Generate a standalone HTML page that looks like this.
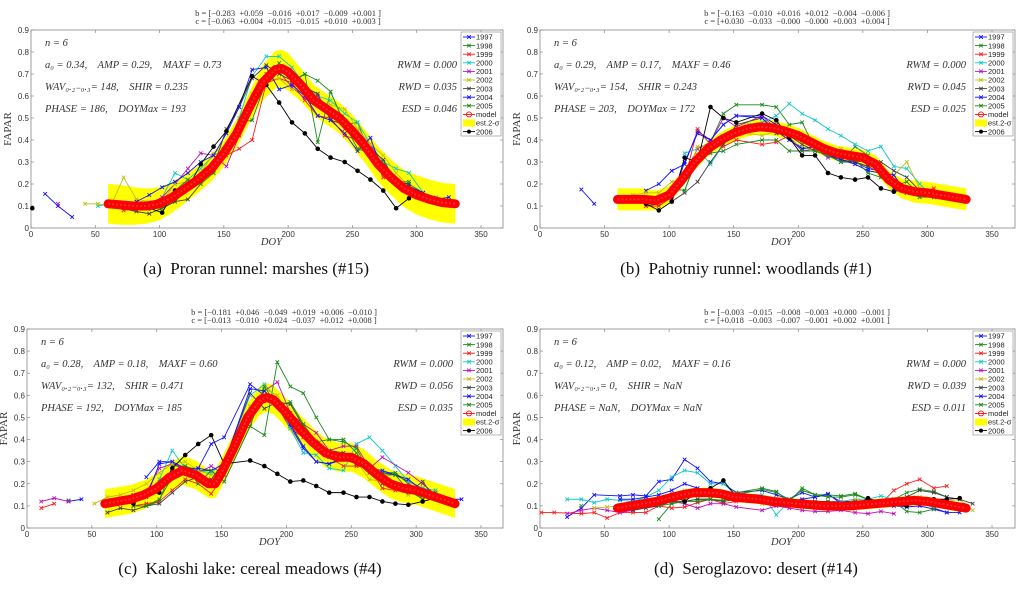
<!DOCTYPE html>
<html><head><meta charset="utf-8">
<style>
body{margin:0;background:#fff;}
svg{display:block;font-family:"Liberation Serif",serif;}
svg text{white-space:pre;}
.tk{font-family:"Liberation Sans",sans-serif;font-size:8px;fill:#333;}
.lg{font-family:"Liberation Sans",sans-serif;font-size:7.5px;fill:#222;}
.an{font-size:10.5px;font-style:italic;fill:#333;}
.ti{font-size:8.5px;fill:#333;}
.cap{font-size:17px;fill:#111;}
</style></head>
<body>
<svg id="fig" width="1024" height="589" viewBox="0 0 1024 589" xmlns="http://www.w3.org/2000/svg"></svg>
<script>
// ---------- Panel (a) data ----------
const aModelDoy = [60,70,80,90,100,110,120,130,140,150,160,170,180,190,195,200,210,220,230,240,250,260,270,280,290,300,310,320,330];
const aModelVal = [0.11,0.105,0.10,0.10,0.11,0.14,0.18,0.22,0.27,0.34,0.43,0.55,0.66,0.72,0.725,0.71,0.65,0.58,0.54,0.50,0.44,0.37,0.29,0.23,0.18,0.15,0.13,0.115,0.11];
const aBand = [0.09,0.09,0.085,0.08,0.075,0.07,0.065,0.06,0.06,0.06,0.065,0.07,0.08,0.085,0.085,0.085,0.075,0.07,0.07,0.07,0.075,0.075,0.08,0.08,0.085,0.09,0.09,0.09,0.09];
const a1997 = [[11,0.155],[21,0.10],[32,0.05]];
const a1998 = [[62,0.10],[72,0.09],[82,0.09],[92,0.10],[102,0.09],[112,0.12],[122,0.18],[132,0.21],[142,0.26],[152,0.35],[162,0.48],[172,0.49],[183,0.67],[193,0.75],[203,0.66],[213,0.70],[223,0.39],[233,0.62],[244,0.47],[254,0.48],[264,0.33],[274,0.30],[284,0.21],[294,0.20],[305,0.16],[315,0.13]];
const a1999 = [[72,0.08],[82,0.09],[92,0.09],[102,0.10],[112,0.14],[122,0.18],[132,0.22],[142,0.25],[152,0.33],[162,0.36],[172,0.40],[183,0.66],[193,0.68],[203,0.66],[213,0.58],[223,0.51],[233,0.50],[244,0.42],[254,0.40],[264,0.35],[274,0.23],[284,0.21],[294,0.18],[305,0.13],[315,0.12]];
const a2000 = [[52,0.10],[62,0.11],[92,0.10],[102,0.14],[112,0.25],[122,0.22],[132,0.27],[142,0.33],[152,0.36],[162,0.50],[172,0.69],[183,0.78],[193,0.78],[203,0.73],[213,0.65],[223,0.60],[233,0.58],[244,0.52],[254,0.48],[264,0.38],[274,0.30],[284,0.27],[294,0.25],[305,0.16],[315,0.14]];
const a2001 = [[21,0.11],[92,0.11],[102,0.14],[112,0.20],[122,0.27],[132,0.34],[142,0.33],[152,0.28],[162,0.42],[172,0.57],[183,0.68],[193,0.71],[203,0.64],[213,0.59],[223,0.60],[233,0.52],[244,0.45],[254,0.44],[264,0.38],[274,0.28],[284,0.21],[294,0.17],[305,0.14]];
const a2002 = [[42,0.11],[52,0.11],[62,0.10],[72,0.23],[82,0.13],[92,0.12],[102,0.12],[112,0.20],[122,0.21],[132,0.25],[142,0.34],[152,0.38],[162,0.48],[172,0.61],[183,0.67],[193,0.68],[203,0.63],[213,0.64],[223,0.58],[233,0.56],[244,0.54],[254,0.45],[264,0.38],[274,0.33],[284,0.25],[294,0.19]];
const a2003 = [[62,0.10],[82,0.075],[92,0.065],[102,0.09],[112,0.12],[122,0.13],[132,0.20],[142,0.28],[152,0.45],[162,0.55],[172,0.68],[183,0.74],[193,0.70],[203,0.67],[213,0.64],[223,0.61],[233,0.49],[244,0.47],[254,0.40],[264,0.36],[274,0.31],[284,0.21],[294,0.20]];
const a2004 = [[82,0.12],[92,0.15],[102,0.185],[112,0.21],[122,0.25],[132,0.30],[142,0.33],[152,0.43],[162,0.55],[172,0.72],[183,0.73],[193,0.63],[203,0.65],[213,0.60],[223,0.51],[233,0.49],[244,0.43],[254,0.35],[264,0.41],[274,0.25],[284,0.21],[294,0.19],[305,0.16],[315,0.13],[325,0.14]];
const a2005 = [[92,0.09],[102,0.09],[112,0.17],[122,0.22],[132,0.20],[142,0.25],[152,0.37],[162,0.45],[172,0.55],[183,0.70],[193,0.72],[203,0.67],[213,0.70],[223,0.67],[233,0.62],[244,0.47],[254,0.36],[264,0.34],[274,0.29],[284,0.21],[294,0.21]];
const a2006 = [[1,0.09],[82,0.09],[92,0.09],[102,0.07],[112,0.17],[122,0.18],[132,0.29],[142,0.37],[152,0.44],[172,0.69],[183,0.65],[193,0.57],[203,0.48],[213,0.43],[223,0.36],[233,0.32],[244,0.30],[254,0.26],[264,0.22],[274,0.17],[284,0.09],[294,0.135]];

// ---------- Panel (b) data ----------
const bModelDoy = [60,70,80,90,100,110,120,130,140,150,160,170,180,190,200,210,220,230,240,250,260,270,280,290,300,310,320,330];
const bModelVal = [0.13,0.13,0.13,0.125,0.15,0.22,0.30,0.36,0.40,0.43,0.45,0.46,0.455,0.44,0.42,0.39,0.36,0.34,0.33,0.32,0.29,0.22,0.18,0.165,0.16,0.15,0.14,0.13];
const bBand = [0.05,0.05,0.05,0.045,0.04,0.035,0.035,0.035,0.035,0.035,0.035,0.035,0.035,0.035,0.035,0.035,0.035,0.035,0.035,0.035,0.04,0.04,0.045,0.05,0.05,0.05,0.05,0.05];
const b1997 = [[32,0.175],[42,0.11],[82,0.17],[92,0.20],[102,0.26],[112,0.29],[122,0.44],[132,0.40],[142,0.47],[152,0.51],[172,0.51],[183,0.47],[193,0.41],[203,0.36],[213,0.37],[223,0.33],[233,0.31],[244,0.30],[254,0.27],[264,0.26],[274,0.18],[284,0.16],[294,0.17]];
const b1998 = [[82,0.10],[92,0.11],[102,0.18],[112,0.17],[122,0.32],[132,0.39],[142,0.52],[152,0.56],[172,0.56],[183,0.55],[193,0.47],[203,0.48],[213,0.36],[223,0.33],[233,0.30],[244,0.37],[254,0.33],[264,0.23],[274,0.19],[284,0.21],[294,0.15]];
const b1999 = [[82,0.10],[92,0.10],[102,0.14],[112,0.22],[122,0.45],[132,0.38],[142,0.37],[152,0.40],[172,0.38],[183,0.39],[193,0.42],[203,0.40],[213,0.38],[223,0.33],[233,0.32],[244,0.30],[254,0.31],[264,0.27],[274,0.20],[284,0.17],[294,0.16],[305,0.18]];
const b2000 = [[112,0.34],[122,0.36],[132,0.29],[142,0.38],[152,0.44],[162,0.47],[172,0.48],[183,0.51],[193,0.565],[203,0.52],[213,0.49],[223,0.45],[233,0.42],[244,0.38],[254,0.35],[264,0.37],[274,0.28],[284,0.27],[294,0.20],[305,0.14]];
const b2001 = [[102,0.15],[112,0.25],[122,0.36],[132,0.39],[142,0.50],[152,0.46],[172,0.51],[183,0.45],[193,0.41],[203,0.35],[213,0.36],[223,0.32],[233,0.33],[244,0.30],[254,0.28],[264,0.25],[274,0.20],[284,0.17]];
const b2002 = [[62,0.14],[72,0.15],[82,0.16],[92,0.16],[102,0.21],[112,0.22],[122,0.37],[132,0.38],[142,0.42],[152,0.45],[162,0.43],[172,0.42],[183,0.44],[193,0.40],[203,0.37],[213,0.35],[223,0.34],[233,0.36],[244,0.33],[254,0.30],[264,0.27],[274,0.24],[284,0.30],[294,0.18]];
const b2003 = [[102,0.12],[112,0.16],[122,0.21],[132,0.30],[142,0.38],[152,0.47],[172,0.50],[183,0.43],[193,0.42],[203,0.38],[213,0.35],[223,0.33],[233,0.30],[244,0.30],[254,0.28],[264,0.30],[274,0.26],[284,0.23],[294,0.17]];
const b2004 = [[102,0.13],[112,0.30],[122,0.43],[132,0.40],[142,0.47],[152,0.51],[172,0.50],[183,0.44],[193,0.40],[203,0.36],[213,0.37],[223,0.33],[233,0.31],[244,0.29],[254,0.26],[264,0.25],[274,0.24],[284,0.16]];
const b2005 = [[112,0.17],[122,0.33],[132,0.34],[142,0.35],[152,0.38],[172,0.40],[183,0.40],[193,0.35],[203,0.35],[213,0.35],[223,0.33],[233,0.30],[244,0.31],[254,0.25],[264,0.23],[274,0.19],[284,0.16],[294,0.14],[305,0.14]];
const b2006 = [[82,0.11],[92,0.08],[102,0.12],[112,0.32],[122,0.30],[132,0.55],[142,0.50],[152,0.48],[172,0.52],[183,0.49],[193,0.41],[203,0.33],[213,0.33],[223,0.25],[233,0.23],[244,0.22],[254,0.23],[264,0.18],[274,0.165],[284,0.18],[294,0.155]];

// ---------- Panel (c) data ----------
const cModelDoy = [60,70,80,90,100,110,120,130,140,145,150,160,170,180,185,190,200,210,220,230,240,250,260,270,280,290,300,310,320,330];
const cModelVal = [0.11,0.12,0.13,0.15,0.18,0.23,0.26,0.24,0.20,0.20,0.25,0.37,0.50,0.58,0.59,0.58,0.52,0.45,0.39,0.34,0.32,0.32,0.29,0.24,0.20,0.18,0.17,0.15,0.13,0.11];
const cBand = [0.065,0.065,0.065,0.065,0.065,0.065,0.065,0.065,0.065,0.065,0.065,0.065,0.065,0.065,0.065,0.065,0.065,0.065,0.065,0.065,0.065,0.065,0.065,0.065,0.065,0.065,0.065,0.065,0.065,0.065];
const c1997 = [[32,0.12],[42,0.13],[92,0.23],[102,0.30],[112,0.30],[122,0.25],[132,0.27],[142,0.38],[152,0.41],[172,0.65],[183,0.60],[193,0.55],[203,0.46],[213,0.36],[223,0.30],[233,0.29],[244,0.32],[254,0.30],[264,0.27],[274,0.25],[284,0.24],[294,0.21],[305,0.18],[315,0.15],[325,0.13],[335,0.13]];
const c1998 = [[32,0.125],[82,0.10],[92,0.10],[102,0.12],[112,0.28],[122,0.28],[132,0.26],[142,0.26],[152,0.21],[172,0.46],[183,0.42],[193,0.75],[203,0.64],[213,0.61],[223,0.50],[233,0.40],[244,0.40],[254,0.34],[264,0.25],[274,0.25],[284,0.25],[294,0.20],[305,0.13]];
const c1999 = [[11,0.09],[21,0.11],[82,0.10],[92,0.11],[102,0.12],[112,0.17],[122,0.22],[132,0.20],[142,0.155],[152,0.24],[172,0.55],[183,0.62],[193,0.55],[203,0.45],[213,0.41],[223,0.38],[233,0.32],[244,0.28],[254,0.28],[264,0.27],[274,0.18],[284,0.17],[294,0.20],[305,0.17],[315,0.14],[325,0.12]];
const c2000 = [[62,0.11],[102,0.22],[112,0.35],[122,0.27],[132,0.26],[142,0.25],[152,0.30],[172,0.60],[183,0.65],[193,0.58],[203,0.45],[213,0.34],[223,0.33],[233,0.27],[244,0.26],[254,0.38],[264,0.41],[274,0.35],[284,0.28],[294,0.21],[305,0.18],[315,0.17]];
const c2001 = [[11,0.12],[21,0.135],[32,0.12],[82,0.15],[92,0.16],[102,0.27],[112,0.29],[122,0.27],[132,0.25],[142,0.28],[152,0.24],[172,0.48],[183,0.62],[193,0.66],[203,0.52],[213,0.47],[223,0.43],[233,0.35],[244,0.37],[254,0.37],[264,0.27],[274,0.32],[294,0.25],[305,0.20],[315,0.15]];
const c2002 = [[52,0.11],[62,0.14],[72,0.15],[82,0.17],[92,0.20],[102,0.25],[112,0.29],[122,0.30],[132,0.26],[142,0.24],[152,0.26],[172,0.55],[183,0.63],[193,0.60],[203,0.50],[213,0.42],[223,0.38],[233,0.34],[244,0.33],[254,0.30],[264,0.22],[274,0.21],[284,0.19],[294,0.15]];
const c2003 = [[62,0.07],[72,0.09],[82,0.08],[92,0.10],[102,0.11],[112,0.16],[122,0.21],[132,0.23],[142,0.22],[152,0.30],[172,0.61],[183,0.54],[193,0.57],[203,0.56],[213,0.46],[223,0.39],[233,0.35],[244,0.34],[254,0.30],[264,0.26],[274,0.20],[284,0.18],[294,0.16],[305,0.21],[315,0.13]];
const c2004 = [[92,0.14],[102,0.29],[112,0.30],[122,0.27],[132,0.27],[142,0.26],[152,0.29],[172,0.63],[183,0.62],[193,0.56],[203,0.47],[213,0.37],[223,0.30],[233,0.29],[244,0.31],[254,0.29],[264,0.27],[274,0.26],[284,0.24],[294,0.22],[305,0.17],[315,0.15],[325,0.13]];
const c2005 = [[82,0.10],[92,0.10],[102,0.13],[112,0.23],[122,0.28],[132,0.20],[142,0.26],[152,0.21],[172,0.46],[183,0.64],[193,0.55],[203,0.57],[213,0.47],[223,0.39],[233,0.40],[244,0.39],[254,0.36],[264,0.25],[274,0.24],[284,0.24],[294,0.17],[305,0.13],[315,0.16]];
const c2006 = [[82,0.11],[92,0.15],[102,0.16],[112,0.27],[122,0.33],[132,0.38],[142,0.42],[152,0.29],[172,0.305],[183,0.28],[193,0.245],[203,0.21],[213,0.215],[223,0.19],[233,0.16],[244,0.16],[254,0.14],[264,0.14],[274,0.12],[284,0.11],[294,0.105],[305,0.12],[315,0.135],[325,0.12]];

// ---------- Panel (d) data ----------
const dModelDoy = [60,70,80,90,100,110,120,130,140,150,160,170,180,190,200,210,220,230,240,250,260,270,280,290,300,310,320,330];
const dModelVal = [0.09,0.10,0.11,0.12,0.135,0.15,0.16,0.16,0.155,0.14,0.135,0.13,0.12,0.115,0.11,0.105,0.10,0.10,0.10,0.105,0.11,0.115,0.12,0.125,0.12,0.11,0.10,0.09];
const dBand = [0.022,0.022,0.022,0.022,0.022,0.022,0.022,0.022,0.022,0.022,0.022,0.022,0.022,0.022,0.022,0.022,0.022,0.022,0.022,0.022,0.022,0.022,0.022,0.022,0.022,0.022,0.022,0.022];
const d1997 = [[21,0.05],[32,0.09],[42,0.15],[62,0.145],[72,0.15],[82,0.145],[92,0.21],[102,0.22],[112,0.31],[122,0.27],[132,0.21],[142,0.20],[152,0.16],[172,0.17],[183,0.15],[193,0.13],[203,0.16],[213,0.14],[223,0.15],[233,0.12],[244,0.12],[254,0.12],[264,0.11],[274,0.11],[284,0.10],[294,0.12],[305,0.09],[315,0.07],[325,0.07]];
const d1998 = [[32,0.10],[92,0.04],[102,0.11],[112,0.12],[122,0.13],[132,0.13],[142,0.12],[152,0.16],[172,0.18],[183,0.165],[193,0.12],[203,0.18],[213,0.15],[223,0.15],[233,0.145],[244,0.155],[254,0.13],[264,0.11],[274,0.13],[284,0.16],[294,0.175],[305,0.165],[315,0.14]];
const d1999 = [[1,0.07],[11,0.07],[32,0.065],[42,0.07],[52,0.045],[62,0.07],[72,0.07],[82,0.07],[92,0.10],[102,0.09],[112,0.095],[122,0.115],[132,0.13],[142,0.11],[152,0.12],[172,0.11],[183,0.10],[193,0.11],[203,0.11],[213,0.12],[223,0.11],[233,0.10],[244,0.10],[254,0.10],[264,0.11],[274,0.17],[284,0.20],[294,0.22],[305,0.18],[315,0.19]];
const d2000 = [[21,0.13],[32,0.13],[42,0.115],[52,0.13],[62,0.125],[72,0.12],[82,0.14],[92,0.17],[102,0.23],[112,0.26],[122,0.25],[132,0.20],[142,0.20],[152,0.15],[172,0.15],[183,0.06],[193,0.12],[203,0.12],[213,0.12],[223,0.12],[233,0.12],[244,0.13],[254,0.13],[264,0.145],[274,0.13],[284,0.14],[294,0.12],[305,0.09]];
const d2001 = [[21,0.065],[32,0.08],[42,0.09],[52,0.08],[62,0.07],[72,0.08],[82,0.10],[92,0.10],[102,0.12],[112,0.11],[122,0.09],[132,0.11],[142,0.11],[152,0.095],[172,0.08],[183,0.10],[193,0.09],[203,0.08],[213,0.075],[223,0.075],[233,0.08],[244,0.07],[254,0.065],[264,0.075],[274,0.065]];
const d2002 = [[42,0.09],[52,0.095],[62,0.10],[72,0.10],[82,0.12],[92,0.13],[102,0.15],[112,0.17],[122,0.18],[132,0.17],[142,0.16],[152,0.13],[172,0.11],[183,0.11],[193,0.11],[203,0.11],[213,0.10],[223,0.10],[233,0.10],[244,0.13],[254,0.12],[264,0.12],[274,0.12],[284,0.13],[294,0.14],[305,0.12],[315,0.12],[325,0.13],[335,0.08]];
const d2003 = [[72,0.08],[82,0.09],[92,0.10],[102,0.12],[112,0.12],[122,0.13],[132,0.13],[142,0.12],[152,0.13],[172,0.12],[183,0.12],[193,0.11],[203,0.125],[213,0.12],[223,0.12],[233,0.11],[244,0.11],[254,0.12],[264,0.12],[274,0.12],[284,0.14],[294,0.17],[305,0.16],[315,0.14],[325,0.13],[335,0.11]];
const d2004 = [[62,0.13],[72,0.13],[82,0.14],[92,0.15],[102,0.17],[112,0.20],[122,0.18],[132,0.16],[142,0.15],[152,0.14],[172,0.13],[183,0.12],[193,0.12],[203,0.13],[213,0.14],[223,0.155],[233,0.11],[244,0.12],[254,0.12],[264,0.11],[274,0.10],[284,0.095],[294,0.10],[305,0.085],[315,0.07]];
const d2005 = [[92,0.10],[102,0.11],[112,0.12],[122,0.12],[132,0.13],[142,0.125],[152,0.15],[172,0.175],[183,0.16],[193,0.13],[203,0.17],[213,0.15],[223,0.14],[233,0.14],[244,0.15],[254,0.13],[264,0.11],[274,0.12],[284,0.075],[294,0.07],[305,0.085]];
const d2006 = [[72,0.105],[82,0.11],[92,0.115],[102,0.15],[112,0.12],[122,0.165],[132,0.18],[142,0.215],[152,0.14],[172,0.135],[183,0.11],[193,0.11],[203,0.10],[213,0.10],[223,0.10],[233,0.09],[244,0.10],[254,0.135],[264,0.115],[274,0.105],[284,0.10],[294,0.12],[305,0.13],[315,0.13],[325,0.135]];

const xTicks = [0,50,100,150,200,250,300,350];
const yTicks = [0,0.1,0.2,0.3,0.4,0.5,0.6,0.7,0.8,0.9];
const years = ['1997','1998','1999','2000','2001','2002','2003','2004','2005','2006'];
const yearColors = ['#1010ff','#1a8a1a','#ff1a1a','#10c8c8','#c010c0','#c0c010','#404040','#1010ff','#1a8a1a','#000000'];

const panels = [
 {id:'a', left:31, top:30, bottom:228, right:503, x350:481, modelDoy:aModelDoy, modelVal:aModelVal, band:aBand,
  series:[a1997,a1998,a1999,a2000,a2001,a2002,a2003,a2004,a2005,a2006],
  bline:'b = [−0.283  +0.059  −0.016  +0.017  −0.009  +0.001 ]', cline:'c = [−0.063  +0.004  +0.015  −0.015  +0.010  +0.003 ]',
  l1:'a₀ = 0.34,    AMP = 0.29,    MAXF = 0.73', l2:'WAV₀.₂₋₀.₃= 148,    SHIR = 0.235', l3:'PHASE = 186,    DOYMax = 193',
  r1:'RWM = 0.000', r2:'RWD = 0.035', r3:'ESD = 0.046', cap:'(a)  Proran runnel: marshes (#15)', capX:256, capY:274},
 {id:'b', left:540, top:30, bottom:228, right:1015, x350:992, modelDoy:bModelDoy, modelVal:bModelVal, band:bBand,
  series:[b1997,b1998,b1999,b2000,b2001,b2002,b2003,b2004,b2005,b2006],
  bline:'b = [−0.163  −0.010  +0.016  +0.012  −0.004  −0.006 ]', cline:'c = [+0.030  −0.033  −0.000  −0.000  +0.003  +0.004 ]',
  l1:'a₀ = 0.29,    AMP = 0.17,    MAXF = 0.46', l2:'WAV₀.₂₋₀.₃= 154,    SHIR = 0.243', l3:'PHASE = 203,    DOYMax = 172',
  r1:'RWM = 0.000', r2:'RWD = 0.045', r3:'ESD = 0.025', cap:'(b)  Pahotniy runnel: woodlands (#1)', capX:746, capY:274},
 {id:'c', left:27, top:329, bottom:528, right:503, x350:481, modelDoy:cModelDoy, modelVal:cModelVal, band:cBand,
  series:[c1997,c1998,c1999,c2000,c2001,c2002,c2003,c2004,c2005,c2006],
  bline:'b = [−0.181  +0.046  −0.049  +0.019  +0.006  −0.010 ]', cline:'c = [−0.013  −0.010  +0.024  −0.037  +0.012  +0.008 ]',
  l1:'a₀ = 0.28,    AMP = 0.18,    MAXF = 0.60', l2:'WAV₀.₂₋₀.₃= 132,    SHIR = 0.471', l3:'PHASE = 192,    DOYMax = 185',
  r1:'RWM = 0.000', r2:'RWD = 0.056', r3:'ESD = 0.035', cap:'(c)  Kaloshi lake: cereal meadows (#4)', capX:250, capY:574},
 {id:'d', left:540, top:329, bottom:528, right:1015, x350:992, modelDoy:dModelDoy, modelVal:dModelVal, band:dBand,
  series:[d1997,d1998,d1999,d2000,d2001,d2002,d2003,d2004,d2005,d2006],
  bline:'b = [−0.003  −0.015  −0.008  −0.003  +0.000  −0.001 ]', cline:'c = [+0.018  −0.003  −0.007  −0.001  +0.002  +0.001 ]',
  l1:'a₀ = 0.12,    AMP = 0.02,    MAXF = 0.16', l2:'WAV₀.₂₋₀.₃= 0,    SHIR = NaN', l3:'PHASE = NaN,    DOYMax = NaN',
  r1:'RWM = 0.000', r2:'RWD = 0.039', r3:'ESD = 0.011', cap:'(d)  Seroglazovo: desert (#14)', capX:756, capY:574}
];

const NS='http://www.w3.org/2000/svg';
const fig=document.getElementById('fig');
function mk(tag,attrs,parent){const e=document.createElementNS(NS,tag);for(const k in attrs)e.setAttribute(k,attrs[k]);(parent||fig).appendChild(e);return e;}
function txt(s,attrs,parent){const e=mk('text',attrs,parent);e.textContent=s;return e;}
function xMark(g,x,y,c,s){mk('path',{d:`M${x-s},${y-s}L${x+s},${y+s}M${x-s},${y+s}L${x+s},${y-s}`,stroke:c,'stroke-width':0.9,fill:'none'},g);}

panels.forEach(p=>{
  const g=mk('g',{});
  
  
  const sx=v=>p.left+v*(p.x350-p.left)/350;
  const sy=v=>p.bottom-v*(p.bottom-p.top)/0.9;
  const box=mk('rect',{x:p.left,y:p.top,width:p.right-p.left,height:p.bottom-p.top,fill:'#fff',stroke:'#888','stroke-width':0.8},g);
  
  
  let up=p.modelDoy.map((d,i)=>`${sx(d)},${sy(p.modelVal[i]+p.band[i])}`);
  let dn=p.modelDoy.map((d,i)=>`${sx(d)},${sy(Math.max(0,p.modelVal[i]-p.band[i]))}`).reverse();
  const band=mk('polygon',{points:up.concat(dn).join(' '),fill:'#ffff00',stroke:'none'},g);
  
  
  xTicks.forEach(t=>{
    const x=sx(t);
    mk('line',{x1:x,y1:p.bottom,x2:x,y2:p.bottom-3,stroke:'#888','stroke-width':0.7},g);
    mk('line',{x1:x,y1:p.top,x2:x,y2:p.top+3,stroke:'#888','stroke-width':0.7},g);
    const l=txt(String(t),{x:x,y:p.bottom+9,'text-anchor':'middle',class:'tk'},g);
    
    
  });
  yTicks.forEach(t=>{
    const y=sy(t);
    mk('line',{x1:p.left,y1:y,x2:p.left+3,y2:y,stroke:'#888','stroke-width':0.7},g);
    mk('line',{x1:p.right,y1:y,x2:p.right-3,y2:y,stroke:'#888','stroke-width':0.7},g);
    const l=txt(t===0?'0':t.toFixed(1),{x:p.left-2,y:y+3,'text-anchor':'end',class:'tk'},g);
    
    
  });
  p.series.forEach((s,si)=>{
    const c=yearColors[si];
    const sg=mk('g',{},g);
    
    
    let seg=[];const segs=[];
    s.forEach((pt,i)=>{if(i>0&&pt[0]-s[i-1][0]>25){segs.push(seg);seg=[];}seg.push(pt);});
    segs.push(seg);
    segs.forEach(sg2=>{if(sg2.length>1)mk('polyline',{points:sg2.map(q=>`${sx(q[0])},${sy(q[1])}`).join(' '),fill:'none',stroke:c,'stroke-width':0.9},sg);});
    s.forEach(q=>{
      if(si===9) mk('circle',{cx:sx(q[0]),cy:sy(q[1]),r:2.3,fill:'#000'},sg);
      else xMark(sg,sx(q[0]),sy(q[1]),c,1.8);
    });
  });
  const mpts=p.modelDoy.map((d,i)=>`${sx(d)},${sy(p.modelVal[i])}`).join(' ');
  const model=mk('polyline',{points:mpts,fill:'none',stroke:'#ff0000','stroke-width':9,'stroke-linecap':'round','stroke-linejoin':'round'},g);
  
  
  mk('polyline',{points:mpts,fill:'none',stroke:'#e83030','stroke-width':2,'stroke-dasharray':'2 2'},g);
  const lx=p.right-42, ly=p.top+2;
  const lg=mk('g',{},g);
  
  
  mk('rect',{x:lx,y:ly,width:40,height:104,fill:'#fff',stroke:'#888','stroke-width':0.6},lg);
  const labels=['1997','1998','1999','2000','2001','2002','2003','2004','2005','model','est.2-σ','2006'];
  const lcol=['#1010ff','#1a8a1a','#ff1a1a','#10c8c8','#c010c0','#c0c010','#404040','#1010ff','#1a8a1a','#ff0000','#ffff00','#000'];
  labels.forEach((lab,i)=>{
    const yy=ly+5+i*8.6;
    const e=mk('g',{},lg);
    
    
    if(lab==='est.2-σ') mk('rect',{x:lx+2,y:yy-3.5,width:12,height:7,fill:'#ffff00'},e);
    else {
      mk('line',{x1:lx+2,y1:yy,x2:lx+14,y2:yy,stroke:lcol[i],'stroke-width':0.9},e);
      if(lab==='model') mk('circle',{cx:lx+8,cy:yy,r:2.5,fill:'none',stroke:'#ff0000','stroke-width':0.9},e);
      else if(lab==='2006') mk('circle',{cx:lx+8,cy:yy,r:2,fill:'#000'},e);
      else xMark(e,lx+8,yy,lcol[i],1.8);
    }
    txt(lab,{x:lx+15,y:yy+2.7,class:'lg'},e);
  });
  const ax=p.left+14;
  [['n = 6',12],[p.l1,34],[p.l2,56],[p.l3,78]].forEach(a=>{
    const t=txt(a[0],{x:ax,y:p.top+a[1]+4,class:'an'},g);
    
    
  });
  [[p.r1,34],[p.r2,56],[p.r3,78]].forEach(a=>{
    const t=txt(a[0],{x:p.left+426,y:p.top+a[1]+4,'text-anchor':'end',class:'an'},g);
    
    
  });
  const cx=p.left+257;
  const t1=txt(p.bline,{x:cx,y:p.top-14,'text-anchor':'middle',class:'ti'},g);
  
  
  const t2=txt(p.cline,{x:cx,y:p.top-6,'text-anchor':'middle',class:'ti'},g);
  
  
  const xl=txt('DOY',{x:sx(187),y:p.bottom+17,'text-anchor':'middle',class:'an','font-size':'12px'},g);
  
  
  const yx=p.left-20, yc=(p.top+p.bottom)/2;
  const yl=txt('FAPAR',{x:yx,y:yc,'text-anchor':'middle',transform:`rotate(-90 ${yx} ${yc})`,'font-size':'11px',fill:'#333'},g);
  
  
  const cap=txt(p.cap,{x:p.capX,y:p.capY,'text-anchor':'middle',class:'cap'},g);
  
  
});
</script>
</body></html>
